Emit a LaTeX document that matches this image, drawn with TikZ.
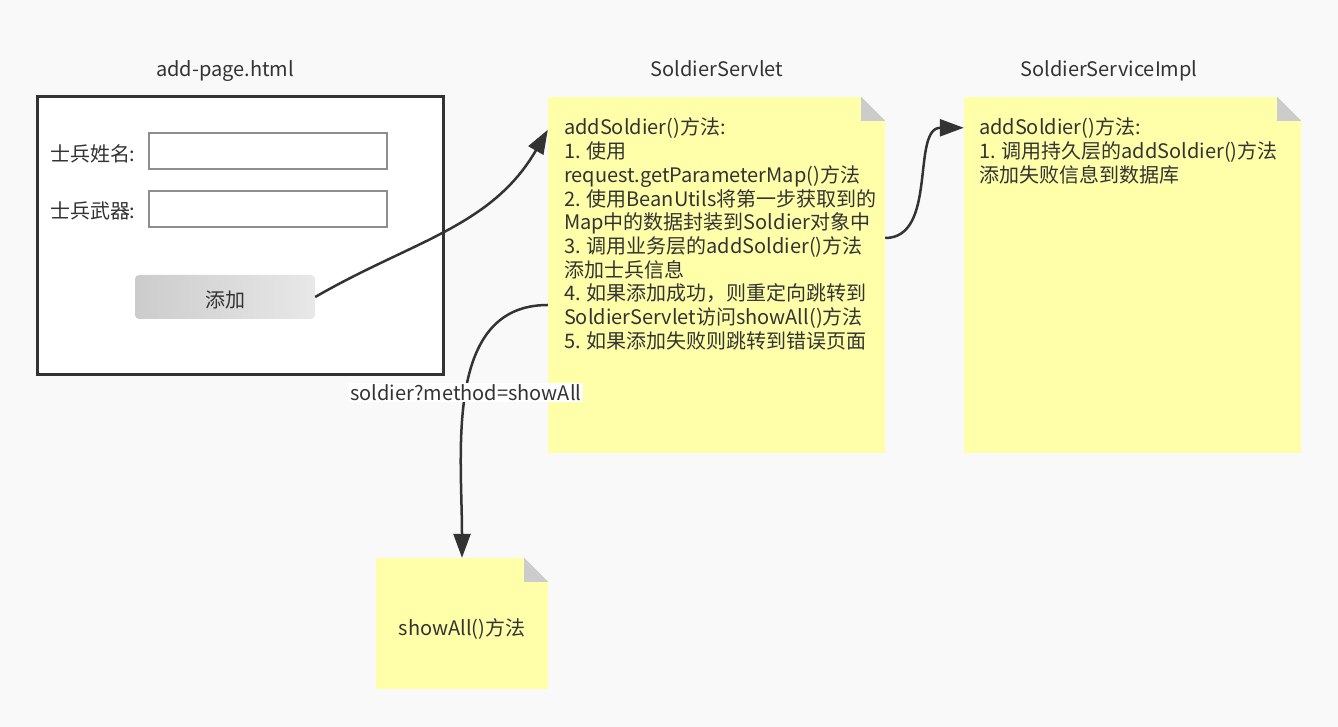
\documentclass[tikz,border=0pt]{standalone}
\usepackage{fontspec}
\setmainfont{Noto Sans CJK SC}
\usetikzlibrary{arrows.meta}
\definecolor{bgc}{HTML}{F9F9F9}
\definecolor{ink}{HTML}{333333}
\definecolor{notey}{HTML}{FFFFAA}
\definecolor{foldg}{HTML}{CCCCCC}
\definecolor{fieldg}{HTML}{8E8E8E}
\definecolor{btnl}{HTML}{CCCCCC}
\definecolor{btnr}{HTML}{E8E8E8}

\begin{document}
\begin{tikzpicture}[x=1pt,y=1pt,
    txt/.style={text=ink,font=\fontsize{20}{23.7}\selectfont,inner sep=0pt},
    note/.style={fill=notey,inner sep=0pt},
    field/.style={draw=fieldg,line width=1.5pt,fill=white,minimum width=238pt,minimum height=36pt,inner sep=0pt},
    flow/.style={draw=ink,line width=2.5pt,-{Triangle[length=24pt,width=17pt]}},
    tag/.style={txt,fill=white,inner sep=1.5pt}]

% Background
\fill[bgc] (0,0) rectangle (1338,727);

% Titles
\node[txt,anchor=base] (pagetitle) at (225,650) {add-page.html};
\node[txt,anchor=base] (servlettitle) at (717,650) {SoldierServlet};
\node[txt,anchor=base] (impltitle) at (1109,650) {SoldierServiceImpl};

% Form page
\node[draw=ink,line width=3pt,fill=white,minimum width=406pt,minimum height=278pt] (page) at (240,491) {};
\foreach \i/\lbl/\y/\b in {1/士兵姓名/576/565, 2/士兵武器/518/508}{
  \node[field] (field\i) at (268,\y) {};
  \node[txt,anchor=base west] (label\i) at (50,\b) {\lbl\kern-1pt:};
}
\node[txt,rounded corners=4pt,left color=btnl,right color=btnr,minimum width=180pt,minimum height=44pt,
  text height=22pt,text depth=1pt] (btn) at (225,430) {添加};

% Notes
\node[note,minimum width=337pt,minimum height=356pt] (servlet) at (716.5,452) {};
\node[note,minimum width=337pt,minimum height=356pt] (impl) at (1132.5,452) {};
\node[txt,fill=notey,minimum width=172pt,minimum height=131pt,text height=27pt,text depth=2pt] (showall) at (462,103.5) {showAll()方法};
\foreach \n in {servlet,impl,showall}{
  \fill[bgc] (\n.north east) -- ++(-24,0) -- ++(24,-24) -- cycle;
  \fill[foldg] ([xshift=-24pt]\n.north east) -- ++(0,-24) -- ++(24,0) -- cycle;
}

% Note texts
\node[txt,anchor=north west,align=left] (servlettext) at ([shift={(16,-21)}]servlet.north west)
  {addSoldier()方法:\\1. 使用\\request.getParameterMap()方法\\2. 使用BeanUtils将第一步获取到的\\Map中的数据封装到Soldier对象中\\3. 调用业务层的addSoldier()方法\\添加士兵信息\\4. 如果添加成功，则重定向跳转到\\SoldierServlet访问showAll()方法\\5. 如果添加失败则跳转到错误页面};
\node[txt,anchor=north west,align=left] (impltext) at ([shift={(15,-21)}]impl.north west)
  {addSoldier()方法:\\1. 调用持久层的addSoldier()方法\\添加失败信息到数据库};

% Connections
\draw[flow] (btn.east) to[out=30,in=-120] ([yshift=-33pt]servlet.north west);
\draw[flow] ([yshift=37pt]servlet.east) to[out=0,in=180] ([yshift=-31pt]impl.north west);
\draw[flow] ([yshift=-30pt]servlet.west) to[out=180,in=90] node[tag,pos=0.5] (redirect) {soldier?method=showAll} (showall.north);
\end{tikzpicture}
\end{document}
